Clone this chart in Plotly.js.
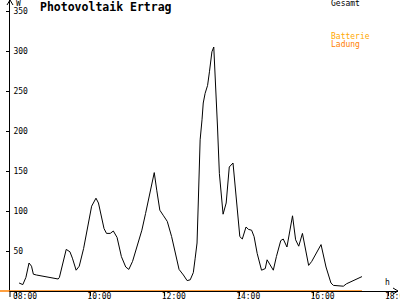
<!DOCTYPE html>
<html>
<head>
<meta charset="utf-8">
<script src="https://cdn.plot.ly/plotly-3.0.1.min.js"></script>
<style>html,body{margin:0;padding:0;background:#fff;}#chart{width:400px;height:300px;}</style>
</head>
<body>
<div id="chart"></div>
<script>
// Gesamt (W) by time of day
var times = ["08:05","08:11","08:16","08:21","08:25","08:28","08:33","09:08","09:10","09:21","09:27","09:31","09:37","09:42","09:49","09:57","10:02","10:09","10:13","10:22","10:26","10:32","10:37","10:43","10:50","10:57","11:02","11:08","11:15","11:23","11:29","11:36","11:43","11:47","11:52","11:58","12:04","12:11","12:16","12:23","12:30","12:36","12:41","12:46","12:49","12:52","12:54","12:57","13:00","13:02","13:05","13:09","13:12","13:16","13:19","13:21","13:25","13:28","13:34","13:39","13:44","13:50","13:53","13:59","14:01","14:05","14:11","14:15","14:20","14:24","14:29","14:36","14:42","14:45","14:50","14:55","15:00","15:07","15:11","15:17","15:26","15:31","15:36","15:42","15:52","15:57","16:12","16:20","16:28","16:32","16:48","16:53","17:18"];
var gesamt = [10,8,17,35,31,21,20,15,17,52,49,41,26,31,53,85,106,116,110,78,72,72,75,67,43,30,27,37,55,76,97,122,148,126,101,94,87,68,49,27,20,13,14,23,41,60,110,189,214,235,247,257,274,299,305,276,205,147,96,110,155,160,135,93,68,65,80,77,76,68,47,26,28,39,32,26,43,63,65,55,94,64,56,72,32,37,58,30,10,7,6,9,18];
// Batterie Ladung (W)
var ladungTimes = ["07:50","17:18"];
var ladung = [0,0];
var xTickVals = [8,10,12,14,16,18];
var xTickText = ["08:00","10:00","12:00","14:00","16:00","18:00"];
var yTickVals = [50,100,150,200,250,300,350];

function toHour(s){var p=s.split(":");return +p[0]+(+p[1])/60;}

var W=400,H=300,ML=10,MR=2,MT=0,MB=9;
var PW=W-ML-MR, PH=H-MT-MB;
function px(x){return (x-ML)/PW;}
function py(y){return (H-MB-y)/PH;}

var mono="DejaVu Sans Mono, monospace";
var traces=[
 {x:ladungTimes.map(toHour),y:ladung,type:"scatter",mode:"lines",line:{color:"#ff8000",width:1.5},hoverinfo:"skip"},
 {x:times.map(toHour),y:gesamt,type:"scatter",mode:"lines",line:{color:"#000",width:1},hoverinfo:"skip"}
];
var layout={
 width:W,height:H,margin:{l:ML,r:MR,t:MT,b:MB,pad:0},
 paper_bgcolor:"#fff",plot_bgcolor:"#fff",showlegend:false,
 title:{text:"<b>Photovoltaik Ertrag</b>",font:{family:mono,size:11.5,color:"#000"},xref:"container",x:40/400,xanchor:"left",yref:"container",y:1-7/300,yanchor:"middle"},
 xaxis:{range:[8-6/37.2,8+382/37.2],tickvals:xTickVals,ticktext:xTickText,ticks:"outside",ticklen:4,tickcolor:"#000",
   ticklabelstandoff:-7,ticklabelshift:9,ticklabeloverflow:"allow",
   showline:true,linecolor:"#000",linewidth:1,showgrid:false,zeroline:false,tickfont:{family:mono,size:8,color:"#000"},automargin:false},
 yaxis:{range:[0,(291)/0.8],tickvals:yTickVals,ticks:"outside",ticklen:3,tickcolor:"#000",
   ticklabelposition:"inside",ticklabelstandoff:2,ticklabeloverflow:"allow",showline:true,linecolor:"#000",linewidth:1,showgrid:false,zeroline:false,
   tickfont:{family:mono,size:8,color:"#000"},automargin:false},
 shapes:[
  {type:"line",xref:"paper",yref:"paper",x0:px(0),x1:px(10),y0:0,y1:0,line:{color:"#ff8000",width:1.5}},
  {type:"path",xref:"paper",yref:"paper",path:"M "+px(7)+" "+py(5)+" L "+px(10)+" "+py(0)+" L "+px(13)+" "+py(5),line:{color:"#000",width:1}},
  {type:"path",xref:"paper",yref:"paper",path:"M "+px(393)+" "+py(288)+" L "+px(398)+" "+py(291)+" L "+px(393)+" "+py(294),line:{color:"#000",width:1}},
  {type:"line",xref:"paper",yref:"paper",x0:px(10),x1:px(10),y0:py(291),y1:py(297),line:{color:"#000",width:1}}
 ],
 annotations:[
  {text:"W",xref:"paper",yref:"paper",x:px(14),y:py(4),xanchor:"left",yanchor:"middle",showarrow:false,font:{family:mono,size:8,color:"#000"}},
  {text:"h",xref:"paper",yref:"paper",x:px(387),y:py(282),xanchor:"center",yanchor:"middle",showarrow:false,font:{family:mono,size:8,color:"#000"}},
  {text:"Gesamt",xref:"paper",yref:"paper",x:px(329),y:py(4),xanchor:"left",yanchor:"middle",showarrow:false,font:{family:mono,size:8,color:"#000"}},
  {text:"Batterie",xref:"paper",yref:"paper",x:px(329),y:py(36),xanchor:"left",yanchor:"middle",showarrow:false,font:{family:mono,size:8,color:"#ffa800"}},
  {text:"Ladung",xref:"paper",yref:"paper",x:px(329),y:py(44),xanchor:"left",yanchor:"middle",showarrow:false,font:{family:mono,size:8,color:"#ff8000"}}
 ]
};
Plotly.newPlot("chart",traces,layout,{staticPlot:true,displayModeBar:false});
</script>
</body>
</html>
